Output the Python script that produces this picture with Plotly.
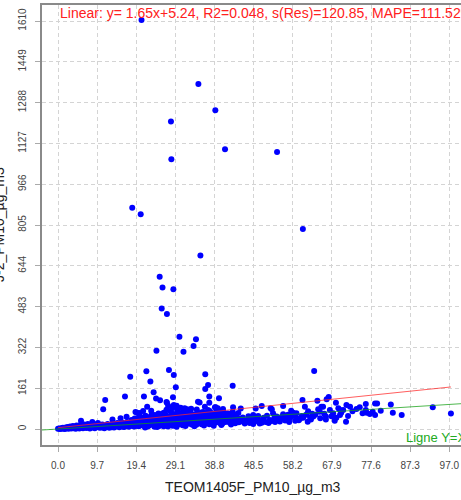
import plotly.graph_objects as go

# ---------------- data ----------------
# dense band of points close to the origin (x: TEOM1405F PM10, y: sensor PM10)
x_band = [0.0, 0.3, 0.5, 0.8, 1.0, 1.2, 1.5, 1.7, 1.9, 2.1, 2.4, 2.6, 2.8, 3.0, 3.3, 3.5, 3.7, 3.9,
          4.2, 4.4, 4.6, 4.8, 5.1, 5.3, 5.5, 5.8, 6.0, 6.2, 6.5, 6.7, 7.0, 7.2, 7.4, 7.7, 7.9, 8.2,
          8.4, 8.6, 8.9, 9.1, 9.4, 9.6, 9.9, 10.1, 10.3,
          10.6, 10.8, 11.0, 11.3, 11.5, 11.8, 12.0, 12.3, 12.5, 12.7, 13.0, 13.2, 13.5, 13.7, 13.9,
          14.2, 14.4, 14.7, 14.9, 15.2, 15.4, 15.7, 15.9, 16.1, 16.4, 16.6, 16.9, 17.1, 17.3, 17.6,
          17.8, 18.1, 18.3, 18.6, 18.8, 19.1, 19.3, 19.6, 19.8, 20.0,
          20.3, 20.5, 20.8, 21.0, 21.3, 21.5, 21.8, 22.0, 22.3, 22.5, 22.8, 23.0, 23.3, 23.5, 23.8,
          24.0, 24.3, 24.5, 24.8, 25.0, 25.3, 25.5, 25.8, 26.0, 26.3, 26.5, 26.8, 27.0, 27.3, 27.5,
          27.8, 28.0, 28.3, 28.5, 28.8, 29.0, 29.3, 29.5, 29.8, 30.0, 30.3, 30.5, 30.8, 31.0, 31.3,
          31.5, 31.8, 32.1, 32.3, 32.6, 32.9, 33.1, 33.4, 33.7, 33.9, 34.2, 34.5, 34.7, 35.0, 35.3,
          35.5, 35.8, 36.1, 36.3, 36.6, 36.9, 37.2, 37.4, 37.7, 38.0, 38.3, 38.5, 38.8, 39.1, 39.4,
          39.7, 40.0, 40.3, 40.6, 40.9, 41.2, 41.5, 41.8, 42.1, 42.4, 42.7, 43.0, 43.4, 43.8, 44.2,
          44.6, 45.0,
          24.6, 27.2, 29.4, 31.6, 33.8, 36.2, 38.6, 40.5, 42.9,
          2.2, 3.4, 4.9, 6.3, 7.6, 9.0, 10.4, 11.9, 13.3, 14.8, 16.2, 17.7, 19.0, 20.6, 22.2,
          23.6, 25.1, 26.6, 28.1, 29.7, 31.2, 32.7, 34.3, 35.9, 37.5, 39.0, 40.7, 42.3, 43.9,
          21.6, 23.9, 26.2, 28.6, 30.9, 33.3, 35.6, 37.9, 40.2, 42.6, 44.8]
y_band = [1, 2, 0, 3, 1, 5, 2, 0, 6, 3, 8, 1, 4, 10, 2, 6, 12, 3,
          8, 1, 14, 5, 10, 2, 16, 7, 12, 3, 18, 8, 4, 14, 20, 9, 2, 16,
          6, 22, 11, 3, 18, 8, 24, 13, 5,
          12, 6, 18, 9, 3, 14, 8, 20, 11, 5, 16, 9, 22, 12, 6,
          18, 10, 24, 13, 7, 19, 11, 26, 15, 8, 21, 12, 28, 16, 9,
          23, 13, 30, 17, 10, 25, 14, 32, 19, 11,
          27, 15, 35, 21, 12, 29, 17, 38, 23, 13, 31, 19, 40, 25, 14,
          33, 20, 43, 27, 15, 35, 22, 45, 29, 16, 37, 23, 48, 31, 17,
          39, 25, 50, 33, 18, 41, 26, 52, 35, 19, 43, 28, 54, 36, 20,
          45, 29, 56, 38, 21, 46, 30, 24, 40, 22, 48, 31, 25, 42, 23,
          50, 33, 26, 44, 24, 35, 52, 27, 46, 25, 37, 29, 48, 26, 38,
          30, 50, 27, 40, 31, 47, 28, 42, 33, 30, 45, 35, 29, 41, 33,
          38, 30,
          8, 10, 9, 12, 11, 14, 13, 16, 18,
          5, 7, 9, 11, 6, 13, 8, 10, 7, 12, 9, 14, 11, 16, 10,
          18, 12, 20, 14, 22, 15, 24, 17, 26, 19, 28, 21, 30, 23,
          6, 9, 11, 13, 15, 17, 19, 21, 23, 25, 27]

# upper layer of the dense cloud
x_band2 = [18.2, 19.0, 19.9, 20.7, 21.4, 22.1, 22.7, 23.4, 24.1, 24.7, 25.4, 26.1, 26.7, 27.4, 28.1,
           28.7, 29.3, 30.0, 30.7, 31.3, 32.0, 32.7, 33.3, 34.0, 34.6, 35.3, 36.0, 36.7, 37.3, 38.0,
           38.7, 39.3, 40.0, 40.7, 41.3, 42.0, 42.7, 43.3, 44.0, 44.7,
           20.1, 21.7, 23.2, 24.9, 26.4, 27.9, 29.6, 31.1, 32.8, 34.4, 35.9, 37.6, 39.2, 40.8, 42.4,
           44.1, 30.4, 33.0, 36.4, 39.6, 26.9, 28.9]
y_band2 = [36, 41, 34, 44, 38, 47, 40, 50, 43, 53, 46, 39, 56, 49, 42,
           59, 51, 45, 62, 54, 47, 65, 57, 49, 60, 52, 67, 55, 48, 63,
           57, 70, 52, 66, 58, 61, 54, 68, 50, 63,
           48, 52, 57, 61, 65, 70, 74, 68, 72, 77, 64, 71, 66, 73, 60,
           56, 84, 80, 88, 82, 76, 90]

# points above the band (moderately high readings)
x_mid = [5.7, 8.5, 11.2, 11.7, 13.5, 15.5, 16.6, 17.0, 17.9, 19.2, 19.6, 20.3, 21.1, 21.3, 21.9,
         22.1, 22.9, 23.1, 23.7, 24.0, 24.3, 24.4, 25.3, 26.0, 26.9, 27.0, 27.3, 27.5, 28.3, 28.5,
         28.7, 28.7, 29.2, 29.4, 29.6, 30.1, 30.5, 31.1, 31.4, 32.0, 32.5, 33.6, 34.0, 34.2, 34.7,
         35.1, 35.5, 36.5, 36.5, 37.2, 37.2, 37.5, 37.5, 38.0, 38.9, 39.1, 39.9, 40.0, 40.9, 41.2,
         42.0, 43.3, 43.4, 45.3]
y_mid = [33, 28, 78, 114, 38, 42, 128, 48, 206, 67, 64, 63, 71, 128, 228,
         88, 187, 72, 145, 55, 120, 309, 113, 62, 107, 104, 92, 233, 82, 125,
         95, 213, 165, 92, 79, 364, 62, 305, 82, 78, 68, 328, 58, 354, 108,
         105, 65, 216, 158, 174, 75, 128, 104, 60, 86, 86, 121, 68, 79, 62,
         58, 171, 86, 81]

# extreme readings
x_out = [18.4, 20.5, 20.7, 25.2, 25.7, 25.9, 27.0, 28.0, 28.1, 28.6, 34.8, 35.3, 39.0, 41.4, 54.3, 60.7]
y_out = [873, 847, 1614, 601, 476, 558, 454, 1213, 1065, 552, 1361, 685, 1258, 1104, 1093, 789]

# right-hand part of the cloud (higher reference concentrations)
x_right = [44.0, 45.0, 45.5, 46.0, 46.7, 47.0, 47.5, 48.4, 48.4, 48.8, 49.0, 49.5, 49.6, 50.2, 50.5,
           50.5, 51.0, 51.5, 52.5, 52.7, 52.9, 53.0, 53.3, 53.6, 54.2, 54.6, 55.0, 55.8, 55.8, 56.0,
           56.7, 57.0, 57.5, 57.8, 58.3, 58.8, 59.1, 59.1, 60.0, 60.4, 60.6, 61.2, 61.5, 61.9, 62.0,
           62.5, 63.0, 63.3, 63.5, 64.3, 64.5, 64.9, 65.3, 65.7, 66.4, 66.4, 66.6, 67.1, 67.4, 68.2,
           68.6, 68.9, 69.5, 69.9, 69.9, 70.7, 71.4, 71.5, 71.9, 72.4, 74.0, 74.8, 76.3, 76.3, 76.5,
           77.3, 78.0, 78.6, 78.6, 79.1, 82.5, 83.0, 85.2, 92.9, 97.4,
           45.8, 46.3, 47.2, 47.8, 48.9, 50.0, 50.8, 51.8, 52.2, 53.8, 55.4, 56.3, 57.3, 58.0, 59.7,
           60.8, 62.7, 63.8, 65.0, 66.0, 67.8, 69.0, 70.2, 73.0, 75.5, 80.0]
y_right = [25, 40, 32, 28, 33, 36, 24, 20, 55, 30, 81, 38, 51, 30, 91,
           25, 44, 28, 36, 82, 32, 78, 62, 42, 49, 36, 30, 58, 91, 40,
           49, 56, 42, 72, 64, 33, 42, 62, 40, 51, 114, 88, 56, 29, 70,
           45, 60, 49, 229, 112, 78, 68, 88, 88, 38, 49, 117, 126, 75, 62,
           33, 104, 82, 75, 55, 75, 29, 95, 51, 88, 79, 86, 99, 75, 64,
           59, 68, 55, 101, 101, 97, 64, 55, 86, 61,
           45, 22, 50, 40, 46, 22, 38, 52, 24, 28, 46, 34, 28, 52, 35,
           44, 38, 56, 42, 60, 50, 44, 64, 70, 62, 72]

# regression shown in the title line
fit_slope = 1.65
fit_intercept = 5.24
fit_label = "Linear: y= 1.65x+5.24, R2=0.048, s(Res)=120.85, MAPE=111.52%"

x_tick_vals = [0.0, 9.7, 19.4, 29.1, 38.8, 48.5, 58.2, 67.9, 77.6, 87.3, 97.0]
x_tick_text = ["0.0", "9.7", "19.4", "29.1", "38.8", "48.5", "58.2", "67.9", "77.6", "87.3", "97.0"]
y_tick_vals = [0, 161, 322, 483, 644, 805, 966, 1127, 1288, 1449, 1610]

x_title = "TEOM1405F_PM10_µg_m3"
y_title = "J-2_PM10_µg_m3"
identity_label = "Ligne Y=X"

# ---------------- figure ----------------
xs = x_band + x_band2 + x_mid + x_out + x_right
ys = y_band + y_band2 + y_mid + y_out + y_right

x_range = [-3.97, 99.9]
y_range = [-63.1, 1673.2]

fig = go.Figure()
fig.add_trace(go.Scatter(
    x=xs, y=ys, mode="markers",
    marker=dict(color="#0000ff", size=6, line=dict(width=0)),
    showlegend=False, hoverinfo="skip"))

# fitted regression line across the data range
x_lo, x_hi = min(xs), max(xs)
fig.add_trace(go.Scatter(
    x=[x_lo, x_hi], y=[fit_slope * x_lo + fit_intercept, fit_slope * x_hi + fit_intercept],
    mode="lines", line=dict(color="rgba(255,40,40,0.75)", width=1),
    showlegend=False, hoverinfo="skip"))

# identity line over the whole plotting region
fig.add_trace(go.Scatter(
    x=[x_range[0], x_range[1]], y=[x_range[0], x_range[1]],
    mode="lines", line=dict(color="rgba(20,160,20,0.75)", width=1),
    showlegend=False, hoverinfo="skip"))

font_family = "Liberation Sans, Arial, sans-serif"

fig.update_layout(
    width=461, height=500, autosize=False,
    margin=dict(l=42, r=0, t=5, b=55, pad=0),
    paper_bgcolor="white", plot_bgcolor="white",
    font=dict(family=font_family, size=10, color="#444"),
    xaxis=dict(
        range=x_range, tickmode="array", tickvals=x_tick_vals, ticktext=x_tick_text,
        showgrid=True, gridcolor="#d4d4d4", griddash="4px,3px", gridwidth=1,
        zeroline=False, showline=True, linecolor="#8a8a8a", linewidth=1.5, mirror=True,
        ticks="outside", ticklen=5, tickcolor="#aaaaaa", ticklabelstandoff=5,
        tickfont=dict(size=10, color="#444")),
    yaxis=dict(
        range=y_range, tickmode="array", tickvals=y_tick_vals,
        ticktext=[str(v) for v in y_tick_vals], tickangle=-90,
        showgrid=True, gridcolor="#d4d4d4", griddash="4px,3px", gridwidth=1,
        zeroline=False, showline=True, linecolor="#8a8a8a", linewidth=1.5,
        ticks="outside", ticklen=5, tickcolor="#aaaaaa", ticklabelstandoff=5,
        tickfont=dict(size=10, color="#444")),
    annotations=[
        dict(text=fit_label, xref="x", yref="paper", x=0, y=0.9807,
             xanchor="left", yanchor="middle", showarrow=False,
             font=dict(size=14, color="#ff2020", family=font_family)),
        dict(text=identity_label, xref="paper", yref="paper", x=0.864, y=0.018,
             xanchor="left", yanchor="middle", showarrow=False,
             font=dict(size=13, color="#22aa22", family=font_family)),
        dict(text=x_title, xref="paper", yref="paper", x=0.5036, y=-0.0955,
             xanchor="center", yanchor="middle", showarrow=False,
             font=dict(size=14, color="#222", family=font_family)),
        dict(text=y_title, xref="paper", yref="paper", x=-0.1026, y=0.5,
             xanchor="center", yanchor="middle", showarrow=False, textangle=-90,
             font=dict(size=14, color="#222", family=font_family)),
    ],
)

fig.write_html("out.html", config={"displayModeBar": False},
               post_script="document.body.style.margin='0';document.body.style.overflow='hidden';")
